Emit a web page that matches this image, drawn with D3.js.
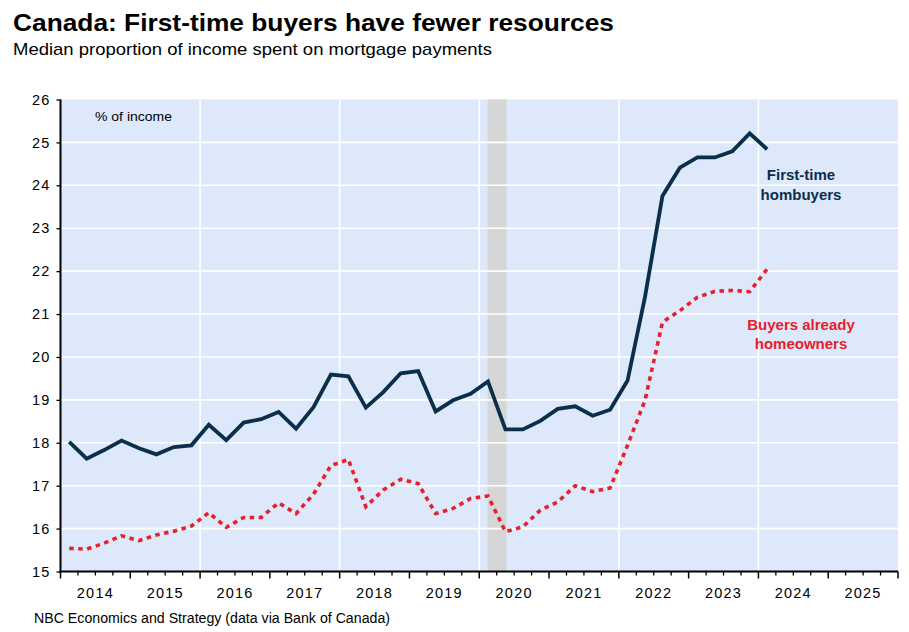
<!DOCTYPE html>
<html>
<head>
<meta charset="utf-8">
<script src="https://cdn.jsdelivr.net/npm/d3@7"></script>
<style>
  html, body { margin: 0; padding: 0; background: #fff; }
  svg { display: block; font-family: "Liberation Sans", Arial, sans-serif; }
</style>
</head>
<body>
<svg id="chart" width="909" height="632"></svg>
<script>
// ---------- data ----------
const quarters = [
  "2014Q1","2014Q2","2014Q3","2014Q4",
  "2015Q1","2015Q2","2015Q3","2015Q4",
  "2016Q1","2016Q2","2016Q3","2016Q4",
  "2017Q1","2017Q2","2017Q3","2017Q4",
  "2018Q1","2018Q2","2018Q3","2018Q4",
  "2019Q1","2019Q2","2019Q3","2019Q4",
  "2020Q1","2020Q2","2020Q3","2020Q4",
  "2021Q1","2021Q2","2021Q3","2021Q4",
  "2022Q1","2022Q2","2022Q3","2022Q4",
  "2023Q1","2023Q2","2023Q3","2023Q4",
  "2024Q1"
];
const firstTimeBuyers = [
  18.02, 17.63, 17.83, 18.05,
  17.87, 17.73, 17.90, 17.94,
  18.42, 18.06, 18.47, 18.55,
  18.72, 18.33, 18.83, 19.59,
  19.55, 18.82, 19.18, 19.62,
  19.67, 18.73, 18.99, 19.14,
  19.43, 18.31, 18.31, 18.51,
  18.79, 18.85, 18.63, 18.77,
  19.45, 21.40, 23.75, 24.41,
  24.65, 24.65, 24.79, 25.21,
  24.84
];
const alreadyOwners = [
  15.54, 15.52, 15.66, 15.83,
  15.72, 15.85, 15.94, 16.06,
  16.37, 16.03, 16.26, 16.26,
  16.60, 16.35, 16.80, 17.47,
  17.61, 16.51, 16.90, 17.15,
  17.05, 16.35, 16.47, 16.70,
  16.76, 15.93, 16.04, 16.43,
  16.62, 17.00, 16.86, 16.95,
  17.94, 18.99, 20.81, 21.08,
  21.39, 21.53, 21.55, 21.52,
  22.05
];
const yearLabels = ["2014","2015","2016","2017","2018","2019","2020","2021","2022","2023","2024","2025"];
const yTicks = [15,16,17,18,19,20,21,22,23,24,25,26];
const gridYears = [2016, 2018, 2020, 2022, 2024];
const recession = [2020.12, 2020.39];

const title = "Canada: First-time buyers have fewer resources";
const subtitle = "Median proportion of income spent on mortgage payments";
const source = "NBC Economics and Strategy (data via Bank of Canada)";
const unitLabel = "% of income";
const seriesLabels = {
  first: ["First-time", "hombuyers"],
  owners: ["Buyers already", "homeowners"]
};

// ---------- layout ----------
const C = { navy: "#0b2e4b", red: "#e8202b", bg: "#dde8fa", shade: "#d6d6d6" };
const L = 60.5, R = 898, T = 99.5, B = 571.5;

const svg = d3.select("#chart");
const x = d3.scaleLinear().domain([2014, 2026]).range([L, R]);
const y = d3.scaleLinear().domain([15, 26]).range([B, T]);

// quarter -> mid-quarter decimal year
const qx = q => +q.slice(0, 4) + (+q.slice(5) - 0.5) / 4;

// background
svg.append("rect").attr("x", L).attr("y", T).attr("width", R - L).attr("height", B - T).attr("fill", C.bg);

// recession shading
svg.append("rect")
  .attr("x", x(recession[0])).attr("y", T)
  .attr("width", x(recession[1]) - x(recession[0])).attr("height", B - T)
  .attr("fill", C.shade);

// gridlines
svg.append("g").selectAll("line").data(yTicks.filter(d => d > 15 && d < 26)).join("line")
  .attr("x1", L).attr("x2", R).attr("y1", d => y(d)).attr("y2", d => y(d))
  .attr("stroke", "#fff").attr("stroke-width", 1.6);
svg.append("g").selectAll("line").data(gridYears).join("line")
  .attr("x1", d => x(d)).attr("x2", d => x(d)).attr("y1", T).attr("y2", B)
  .attr("stroke", "#fff").attr("stroke-width", 1.6);

// lines
const line = (vals) => d3.line().x((d, i) => x(qx(quarters[i]))).y(d => y(d))(vals);
svg.append("path").attr("d", line(alreadyOwners)).attr("fill", "none")
  .attr("stroke", C.red).attr("stroke-width", 3.6).attr("stroke-dasharray", "4.5,4.5");
svg.append("path").attr("d", line(firstTimeBuyers)).attr("fill", "none")
  .attr("stroke", C.navy).attr("stroke-width", 3.8).attr("stroke-linejoin", "miter");

// y axis
const yAxis = svg.append("g").attr("transform", `translate(${L},0)`)
  .call(d3.axisLeft(y).tickValues(yTicks).tickSize(4).tickPadding(6).tickFormat(d3.format("d")));
yAxis.select(".domain").attr("stroke", "#000").attr("stroke-width", 2).attr("d", `M0,${T}V${B}`);
yAxis.selectAll(".tick line").attr("stroke", "#000").attr("stroke-width", 1.3);
yAxis.selectAll(".tick text").attr("font-size", 14.5).attr("letter-spacing", 1.2)
  .attr("fill", "#000").attr("font-family", "Liberation Sans, Arial, sans-serif");

// x axis: major (year) ticks, minor (quarter) ticks
const xg = svg.append("g").attr("transform", `translate(0,${B})`);
xg.append("line").attr("x1", L - 1).attr("x2", R).attr("y1", 0).attr("y2", 0)
  .attr("stroke", "#000").attr("stroke-width", 2);
const majorTicks = d3.range(2014, 2027);
const minorTicks = d3.range(2014, 2026, 0.25).filter(d => d % 1 !== 0);
xg.selectAll("line.major").data(majorTicks).join("line").attr("class", "major")
  .attr("x1", d => x(d)).attr("x2", d => x(d)).attr("y1", 0).attr("y2", 7)
  .attr("stroke", "#000").attr("stroke-width", 1.5);
xg.selectAll("line.minor").data(minorTicks).join("line").attr("class", "minor")
  .attr("x1", d => x(d)).attr("x2", d => x(d)).attr("y1", 0).attr("y2", 4)
  .attr("stroke", "#000").attr("stroke-width", 1.3);
xg.selectAll("text").data(yearLabels).join("text")
  .attr("x", d => x(+d + 0.5)).attr("y", 26.5)
  .attr("text-anchor", "middle").attr("font-size", 14.5).attr("letter-spacing", 1.2)
  .attr("fill", "#000").text(d => d);

// titles
svg.append("text").attr("x", 13).attr("y", 31).attr("font-size", 24).attr("font-weight", "bold")
  .attr("textLength", 601).attr("lengthAdjust", "spacingAndGlyphs").text(title);
svg.append("text").attr("x", 13).attr("y", 55).attr("font-size", 17)
  .attr("textLength", 479).attr("lengthAdjust", "spacingAndGlyphs").text(subtitle);
svg.append("text").attr("x", 34).attr("y", 622.5).attr("font-size", 14)
  .attr("textLength", 356).attr("lengthAdjust", "spacingAndGlyphs").text(source);

// unit label
svg.append("text").attr("x", 95).attr("y", 121).attr("font-size", 13.5)
  .attr("textLength", 77).attr("lengthAdjust", "spacingAndGlyphs").text(unitLabel);

// series labels
const lab = svg.append("g").attr("font-weight", "bold").attr("font-size", 15).attr("text-anchor", "middle");
lab.selectAll("text.f").data(seriesLabels.first).join("text").attr("class", "f")
  .attr("x", 801).attr("y", (d, i) => 180 + i * 19.5).attr("fill", C.navy).text(d => d);
lab.selectAll("text.o").data(seriesLabels.owners).join("text").attr("class", "o")
  .attr("x", 801).attr("y", (d, i) => 329.5 + i * 19).attr("fill", C.red).text(d => d);
</script>
</body>
</html>
